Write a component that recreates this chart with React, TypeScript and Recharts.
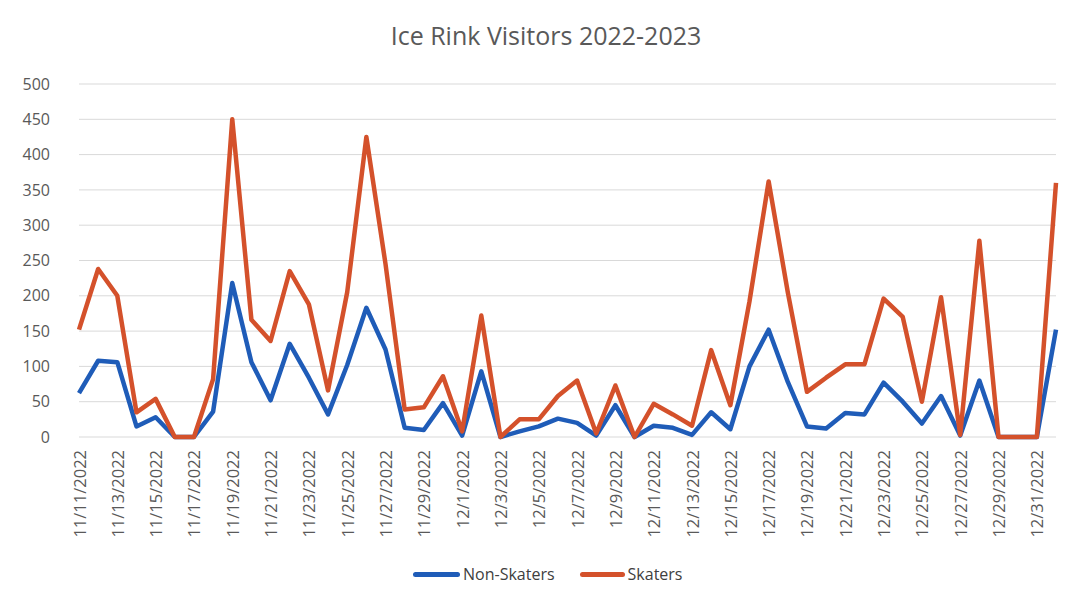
import { LineChart, Line, XAxis, YAxis, CartesianGrid } from "recharts";

const dates = [
  "11/11/2022", "11/12/2022", "11/13/2022", "11/14/2022", "11/15/2022", "11/16/2022",
  "11/17/2022", "11/18/2022", "11/19/2022", "11/20/2022", "11/21/2022", "11/22/2022",
  "11/23/2022", "11/24/2022", "11/25/2022", "11/26/2022", "11/27/2022", "11/28/2022",
  "11/29/2022", "11/30/2022", "12/1/2022", "12/2/2022", "12/3/2022", "12/4/2022",
  "12/5/2022", "12/6/2022", "12/7/2022", "12/8/2022", "12/9/2022", "12/10/2022",
  "12/11/2022", "12/12/2022", "12/13/2022", "12/14/2022", "12/15/2022", "12/16/2022",
  "12/17/2022", "12/18/2022", "12/19/2022", "12/20/2022", "12/21/2022", "12/22/2022",
  "12/23/2022", "12/24/2022", "12/25/2022", "12/26/2022", "12/27/2022", "12/28/2022",
  "12/29/2022", "12/30/2022", "12/31/2022", "1/1/2023",
];

const nonSkaters = [
  62, 108, 106, 15, 28, 0, 0, 36, 218, 106, 52, 132, 84, 32, 102, 183, 124, 13,
  10, 48, 2, 93, 0, 8, 15, 26, 20, 2, 45, 0, 16, 13, 3, 35, 11, 100,
  152, 78, 15, 12, 34, 32, 77, 50, 19, 58, 2, 80, 0, 0, 0, 152,
];

const skaters = [
  152, 238, 200, 35, 54, 0, 0, 82, 450, 166, 136, 235, 188, 66, 205, 425, 245, 39,
  42, 86, 8, 172, 0, 25, 25, 58, 80, 5, 73, 0, 47, 32, 16, 123, 45, 192,
  362, 205, 64, 84, 103, 103, 196, 170, 50, 198, 3, 278, 0, 0, 0, 360,
];

const yTicks = [0, 50, 100, 150, 200, 250, 300, 350, 400, 450, 500];

const BLUE = "#1F5CB8";
const RED = "#D4512B";
const TEXT = "#595959";
const FONT = "'Open Sans', 'Liberation Sans', sans-serif";

const data = dates.map((d, i) => ({
  date: d,
  nonSkaters: nonSkaters[i],
  skaters: skaters[i],
}));

// rotated date labels, read bottom to top
const DateTick = (props: any) => {
  const { x, y, payload } = props;
  const ty = y + 13;
  return (
    <text
      x={x}
      y={ty}
      transform={`rotate(-90, ${x}, ${ty})`}
      textAnchor="end"
      dominantBaseline="central"
      fontSize={16.5}
      fontFamily={FONT}
      fill={TEXT}
    >
      {payload.value}
    </text>
  );
};

export default function App() {
  return (
    <div
      style={{
        position: "absolute",
        left: 0,
        top: 0,
        width: 1075,
        height: 607,
        background: "#fff",
        fontFamily: FONT,
      }}
    >
      <div
        style={{
          position: "absolute",
          top: 20,
          left: 0,
          width: 1092,
          textAlign: "center",
          fontSize: 25,
          lineHeight: "30px",
          color: TEXT,
        }}
      >
        Ice Rink Visitors 2022-2023
      </div>

      <LineChart
        width={1075}
        height={607}
        data={data}
        margin={{ top: 84, right: 19, left: 19, bottom: 0 }}
      >
        <CartesianGrid vertical={false} stroke="#d9d9d9" strokeWidth={1} />
        <XAxis
          dataKey="date"
          height={170}
          interval={1}
          axisLine={false}
          tickLine={false}
          tickSize={0}
          tickMargin={0}
          tick={<DateTick />}
        />
        <YAxis
          width={60}
          domain={[0, 500]}
          ticks={yTicks}
          axisLine={false}
          tickLine={false}
          tickSize={0}
          tickMargin={29}
          tick={{ fontSize: 16, fill: TEXT, fontFamily: FONT }}
        />
        <Line
          type="linear"
          dataKey="nonSkaters"
          name="Non-Skaters"
          stroke={BLUE}
          strokeWidth={4.5}
          strokeLinejoin="round"
          dot={false}
          isAnimationActive={false}
        />
        <Line
          type="linear"
          dataKey="skaters"
          name="Skaters"
          stroke={RED}
          strokeWidth={4.5}
          strokeLinejoin="round"
          dot={false}
          isAnimationActive={false}
        />
      </LineChart>

      <div
        style={{
          position: "absolute",
          top: 563,
          left: 413,
          display: "flex",
          alignItems: "center",
          fontSize: 16,
          color: "#404040",
          lineHeight: "22px",
        }}
      >
        <span style={{ width: 47, height: 5, borderRadius: 3, background: BLUE, marginRight: 3 }} />
        <span style={{ marginRight: 25 }}>Non-Skaters</span>
        <span style={{ width: 45, height: 5, borderRadius: 3, background: RED, marginRight: 3 }} />
        <span>Skaters</span>
      </div>
    </div>
  );
}
